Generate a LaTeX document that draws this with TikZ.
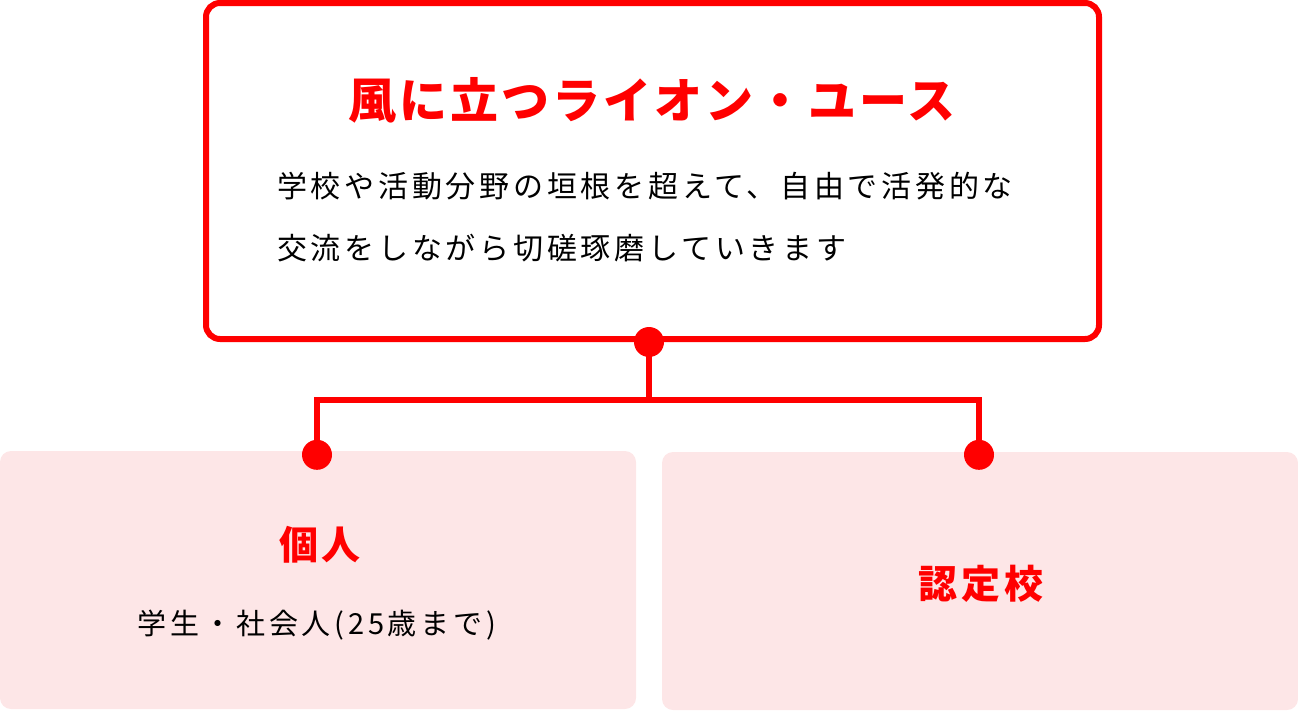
\documentclass[tikz,border=0pt]{standalone}
\usepackage{fontspec}
\setmainfont{Noto Sans CJK JP}
\newfontfamily\bodyfont[LetterSpace=12.5]{Noto Sans CJK JP}
\newfontfamily\subfont[LetterSpace=13]{Noto Sans CJK JP}
\newfontfamily\headfont[LetterSpace=6.5]{Noto Sans CJK JP}
\newfontfamily\boxheadfont[LetterSpace=10]{Noto Sans CJK JP}
\usetikzlibrary{positioning}
\usetikzlibrary{calc}
\definecolor{lionred}{HTML}{FF0000}
\definecolor{lionpink}{HTML}{FDE6E7}

\begin{document}
\begin{tikzpicture}[x=1pt,y=-1pt,
	topbox/.style={rectangle,draw=lionred,line width=6pt,rounded corners=14pt,fill=white,minimum width=893pt,minimum height=336pt,inner sep=0pt},
	subbox/.style={rectangle,fill=lionpink,rounded corners=11pt,minimum width=636pt,minimum height=258pt,inner sep=0pt},
	headtxt/.style={text=lionred,inner sep=0pt,font=\headfont\bfseries\fontsize{48pt}{48pt}\selectfont},
	boxhead/.style={text=lionred,inner sep=0pt,font=\boxheadfont\bfseries\fontsize{39pt}{39pt}\selectfont},
	bodytxt/.style={text=black,inner sep=0pt,font=\bodyfont\fontsize{30pt}{30pt}\selectfont},
	subtxt/.style={text=black,inner sep=0pt,font=\subfont\fontsize{29pt}{29pt}\selectfont},
	dot/.style={circle,fill=lionred,inner sep=0pt,minimum size=30pt},
	wire/.style={draw=lionred,line width=6pt}]
		\useasboundingbox (0,0) rectangle (1298,710);
		\node[topbox] (lion) at (652.5,171) {};
		\node[subbox] (kojin) at (318,580) {};
		\node[subbox] (nintei) at (980,581) {};
		\node[headtxt] (lionttl) at (652,100) {風に立つライオン・ユース};
		\node[bodytxt,anchor=west] (line1) at (277,186) {学校や活動分野の垣根を超えて、自由で活発的な};
		\node[bodytxt] (line2)[below = 62pt of line1.west,anchor=west] {交流をしながら切磋琢磨していきます};
		\node[boxhead] (kojinttl) at (320,545) {個人};
		\node[subtxt] (kojinsub)[below = 80pt of kojinttl.center,anchor=center,xshift=-3pt] {学生・社会人(25歳まで)};
		\node[boxhead] (ninteittl) at (981,584) {認定校};
		\node[dot] (liondot) at ($(lion.south)+(-3.5,0)$) {};
		\node[dot] (kojindot) at ($(kojin.north)+(-1,4)$) {};
		\node[dot] (ninteidot) at ($(nintei.north)+(-1,3)$) {};
		\coordinate (fork) at ($(liondot.center)+(0,58)$);
		\draw[wire] (liondot.center) -- (fork) -| (kojindot.center);
		\draw[wire] (fork) -| (ninteidot.center);
	\end{tikzpicture}
\end{document}
